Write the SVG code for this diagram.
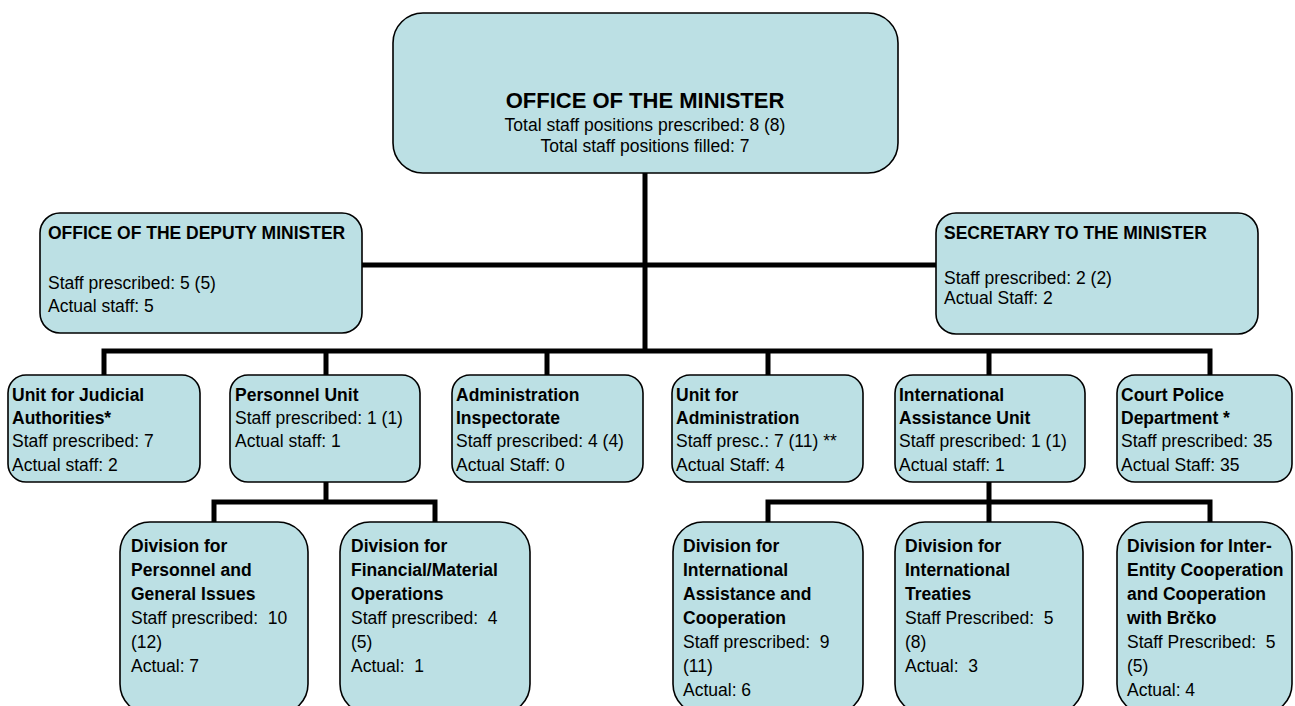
<svg xmlns="http://www.w3.org/2000/svg" width="1295" height="706" viewBox="0 0 1295 706">
<style>
.box{fill:#BCE0E4;stroke:#000;stroke-width:1.6}
text{font-family:"Liberation Sans",Arial,sans-serif;font-size:17.5px;fill:#000;white-space:pre}
.b{font-weight:bold}
.t{font-weight:bold;font-size:22px}
.c{text-anchor:middle}
.con{stroke:#000;stroke-width:5;fill:none}
</style>
<rect width="1295" height="706" fill="#fff"/>
<g id="connectors">
<path class="con" d="M645,173V351"/>
<path class="con" d="M362,265H936"/>
<path class="con" d="M104,375V351H1210V375M326,351V375M547,351V375M768,351V375M989,351V375"/>
<path class="con" d="M326,482V502M214,522V502H435V522"/>
<path class="con" d="M989,482V522M768,522V502H1210V522"/>
</g>
<g id="minister">
<rect class="box" x="393" y="13" width="505" height="160" rx="30"/>
<text class="t c" x="645" y="108">OFFICE OF THE MINISTER</text>
<text class="c" x="645" y="131">Total staff positions prescribed: 8 (8)</text>
<text class="c" x="645" y="152">Total staff positions filled: 7</text>
</g>
<g id="deputy">
<rect class="box" x="40" y="213" width="322" height="120" rx="20"/>
<text class="b" x="48" y="239">OFFICE OF THE DEPUTY MINISTER</text>
<text x="48" y="289">Staff prescribed: 5 (5)</text>
<text x="48" y="312">Actual staff: 5</text>
</g>
<g id="secretary">
<rect class="box" x="936" y="213" width="322" height="121" rx="20"/>
<text class="b" x="944" y="239">SECRETARY TO THE MINISTER</text>
<text x="944" y="284">Staff prescribed: 2 (2)</text>
<text x="944" y="304">Actual Staff: 2</text>
</g>
<g id="judicial">
<rect class="box" x="8" y="375" width="192" height="107" rx="18"/>
<text class="b" x="12" y="401">Unit for Judicial</text>
<text class="b" x="12" y="424">Authorities*</text>
<text x="12" y="447">Staff prescribed: 7</text>
<text x="12" y="471">Actual staff: 2</text>
</g>
<g id="personnel">
<rect class="box" x="230" y="375" width="190" height="107" rx="18"/>
<text class="b" x="235" y="401">Personnel Unit</text>
<text x="235" y="424">Staff prescribed: 1 (1)</text>
<text x="235" y="447">Actual staff: 1</text>
</g>
<g id="inspectorate">
<rect class="box" x="452" y="375" width="191" height="107" rx="18"/>
<text class="b" x="456" y="401">Administration</text>
<text class="b" x="456" y="424">Inspectorate</text>
<text x="456" y="447">Staff prescribed: 4 (4)</text>
<text x="456" y="471">Actual Staff: 0</text>
</g>
<g id="administration">
<rect class="box" x="672" y="375" width="191" height="107" rx="18"/>
<text class="b" x="676" y="401">Unit for</text>
<text class="b" x="676" y="424">Administration</text>
<text x="676" y="447">Staff presc.: 7 (11) **</text>
<text x="676" y="471">Actual Staff: 4</text>
</g>
<g id="international">
<rect class="box" x="895" y="375" width="190" height="107" rx="18"/>
<text class="b" x="899" y="401">International</text>
<text class="b" x="899" y="424">Assistance Unit</text>
<text x="899" y="447">Staff prescribed: 1 (1)</text>
<text x="899" y="471">Actual staff: 1</text>
</g>
<g id="police">
<rect class="box" x="1117" y="375" width="175" height="107" rx="18"/>
<text class="b" x="1121" y="401">Court Police</text>
<text class="b" x="1121" y="424">Department *</text>
<text x="1121" y="447">Staff prescribed: 35</text>
<text x="1121" y="471">Actual Staff: 35</text>
</g>
<g id="div-personnel">
<rect class="box" x="120" y="522" width="188" height="192" rx="30"/>
<text class="b" x="131" y="552">Division for</text>
<text class="b" x="131" y="576">Personnel and</text>
<text class="b" x="131" y="600">General Issues</text>
<text x="131" y="624">Staff prescribed:  10</text>
<text x="131" y="648">(12)</text>
<text x="131" y="672">Actual: 7</text>
</g>
<g id="div-financial">
<rect class="box" x="340" y="522" width="190" height="192" rx="30"/>
<text class="b" x="351" y="552">Division for</text>
<text class="b" x="351" y="576">Financial/Material</text>
<text class="b" x="351" y="600">Operations</text>
<text x="351" y="624">Staff prescribed:  4</text>
<text x="351" y="648">(5)</text>
<text x="351" y="672">Actual:  1</text>
</g>
<g id="div-assistance">
<rect class="box" x="673" y="522" width="190" height="192" rx="30"/>
<text class="b" x="683" y="552">Division for</text>
<text class="b" x="683" y="576">International</text>
<text class="b" x="683" y="600">Assistance and</text>
<text class="b" x="683" y="624">Cooperation</text>
<text x="683" y="648">Staff prescribed:  9</text>
<text x="683" y="672">(11)</text>
<text x="683" y="696">Actual: 6</text>
</g>
<g id="div-treaties">
<rect class="box" x="895" y="522" width="188" height="192" rx="30"/>
<text class="b" x="905" y="552">Division for</text>
<text class="b" x="905" y="576">International</text>
<text class="b" x="905" y="600">Treaties</text>
<text x="905" y="624">Staff Prescribed:  5</text>
<text x="905" y="648">(8)</text>
<text x="905" y="672">Actual:  3</text>
</g>
<g id="div-brcko">
<rect class="box" x="1117" y="522" width="175" height="192" rx="30"/>
<text class="b" x="1127" y="552">Division for Inter-</text>
<text class="b" x="1127" y="576">Entity Cooperation</text>
<text class="b" x="1127" y="600">and Cooperation</text>
<text class="b" x="1127" y="624">with Brčko</text>
<text x="1127" y="648">Staff Prescribed:  5</text>
<text x="1127" y="672">(5)</text>
<text x="1127" y="696">Actual: 4</text>
</g>
</svg>
